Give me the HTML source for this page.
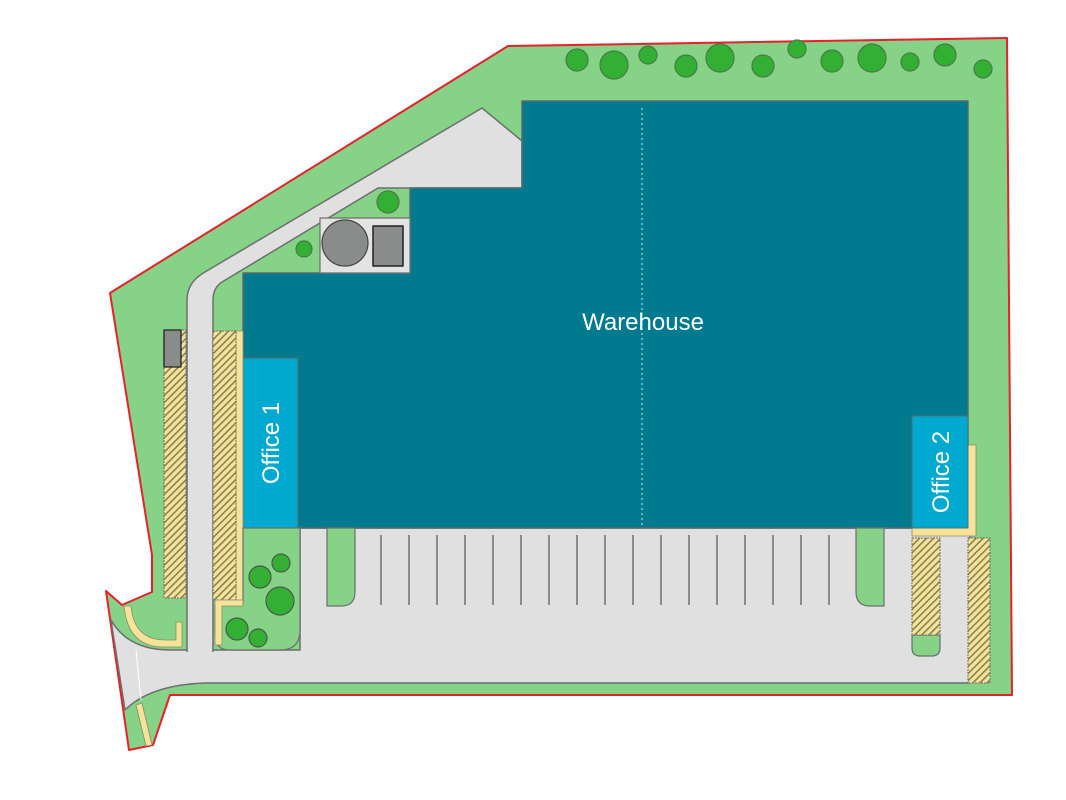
<!DOCTYPE html>
<html><head><meta charset="utf-8"><style>
html,body{margin:0;padding:0;background:#fff;width:1066px;height:800px;overflow:hidden}
svg{display:block}
</style></head><body>
<svg width="1066" height="800" viewBox="0 0 1066 800" xmlns="http://www.w3.org/2000/svg">
<defs>
<pattern id="h" width="5" height="5" patternUnits="userSpaceOnUse" patternTransform="rotate(45)">
<rect width="5" height="5" fill="#f5e39a"/><rect width="1.6" height="5" fill="#8a8252"/>
</pattern>
</defs>
<g stroke-linejoin="round">
<polygon points="110,293 508,46 1007,38 1012,695 170,695 153,745 129,750 106,591 122,605 152,592 152,555" fill="#86d287" stroke="#e8202a" stroke-width="2"/>
<!-- main road + parking -->
<path d="M111,620 Q128,650 170,650 L300,650 L300,528 L970,528 L970,683 L205,683 Q150,685 125,710 Z" fill="#dfe0df" stroke="#6d6f6f" stroke-width="1.5"/>
<!-- left vertical road + diagonal -->
<path d="M187,652 L187,300 Q187,282 205,272 L482,108 L522,141 L522,188 L378,188 L222,282 Q213,288 213,300 L213,652" fill="#dfe0df" stroke="#6d6f6f" stroke-width="1.5"/>
<rect x="188" y="640" width="24" height="15" fill="#dfe0df"/>
<polygon points="522,101 968,101 968,528 243,528 243,273 410,273 410,188 522,188" fill="#007a8e" stroke="#5a6a6e" stroke-width="1.5"/>
<line x1="642" y1="108" x2="642" y2="525" stroke="#cfe6ea" stroke-width="1" stroke-dasharray="2,3"/>
<rect x="320" y="218" width="90" height="55" fill="#e2e3e2" stroke="#6d6f6f" stroke-width="1.2"/>
<circle cx="345" cy="243" r="23" fill="#8a8c8c" stroke="#444" stroke-width="1.2"/>
<rect x="373" y="226" width="30" height="40" fill="#8a8c8c" stroke="#222" stroke-width="1.5"/>
<circle cx="388" cy="202" r="11" fill="#33b033" stroke="#4a7a4a" stroke-width="1.2"/>
<circle cx="304" cy="249" r="8" fill="#33b033" stroke="#4a7a4a" stroke-width="1.2"/>
<rect x="243" y="358" width="55" height="170" fill="#00a9cf" stroke="#5a6a6e" stroke-width="1"/>
<text transform="translate(279,443) rotate(-90)" text-anchor="middle" font-family="Liberation Sans, sans-serif" font-size="24" fill="#fff">Office 1</text>
<polygon points="968,445 976,445 976,536 912,536 912,528 968,528" fill="#f5e39a" stroke="#8a8a6a" stroke-width="0.8"/>
<rect x="912" y="416" width="56" height="112" fill="#00a9cf" stroke="#5a6a6e" stroke-width="1"/>
<text transform="translate(949,472) rotate(-90)" text-anchor="middle" font-family="Liberation Sans, sans-serif" font-size="24" fill="#fff">Office 2</text>
<text x="643" y="330" text-anchor="middle" font-family="Liberation Sans, sans-serif" font-size="24" fill="#fff">Warehouse</text>
<rect x="164" y="330" width="22" height="268" fill="url(#h)" stroke="#6d6f6f" stroke-width="1" stroke-dasharray="2,1"/>
<rect x="164" y="330" width="17" height="37" fill="#8a8c8c" stroke="#222" stroke-width="1.3"/>
<rect x="236" y="331" width="7" height="270" fill="#f5e39a" stroke="#8a8a6a" stroke-width="0.8"/>
<rect x="213" y="331" width="23" height="269" fill="url(#h)" stroke="#6d6f6f" stroke-width="1" stroke-dasharray="2,1"/>
<path d="M124,606 Q128,648 165,647 L182,647 L182,622 L176,622 L176,640 L165,640 Q134,640 131,606 Z" fill="#f5e39a" stroke="#8a8a6a" stroke-width="0.8"/>
<line x1="136" y1="650" x2="141" y2="700" stroke="#fff" stroke-width="1"/>
<polygon points="136,705 142,703 152,745 146,746" fill="#f5e39a" stroke="#8a8a6a" stroke-width="0.8"/>
<path d="M243,528 L300,528 L300,630 Q300,650 280,650 L230,650 Q215,650 215,635 L215,605 L243,605 Z" fill="#86d287" stroke="#6d6f6f" stroke-width="1.2"/>
<polygon points="236,600 243,600 243,606 222,606 222,645 215,645 215,600" fill="#f5e39a" stroke="#8a8a6a" stroke-width="0.8"/>
<circle cx="260" cy="577" r="11" fill="#33b033" stroke="#4a5a4a" stroke-width="1.2"/>
<circle cx="281" cy="563" r="9" fill="#33b033" stroke="#4a5a4a" stroke-width="1.2"/>
<circle cx="280" cy="601" r="14" fill="#33b033" stroke="#4a5a4a" stroke-width="1.2"/>
<circle cx="237" cy="629" r="11" fill="#33b033" stroke="#4a5a4a" stroke-width="1.2"/>
<circle cx="258" cy="638" r="9" fill="#33b033" stroke="#4a5a4a" stroke-width="1.2"/>
<path d="M327,528 L355,528 L355,592 Q355,606 341,606 L327,606 Z" fill="#86d287" stroke="#6d6f6f" stroke-width="1.2"/>
<path d="M856,528 L884,528 L884,606 L870,606 Q856,606 856,592 Z" fill="#86d287" stroke="#6d6f6f" stroke-width="1.2"/>
<g stroke="#6d6f6f" stroke-width="1.5">
<line x1="381" y1="535" x2="381" y2="605"/><line x1="409" y1="535" x2="409" y2="605"/><line x1="437" y1="535" x2="437" y2="605"/><line x1="465" y1="535" x2="465" y2="605"/><line x1="493" y1="535" x2="493" y2="605"/><line x1="521" y1="535" x2="521" y2="605"/><line x1="549" y1="535" x2="549" y2="605"/><line x1="577" y1="535" x2="577" y2="605"/><line x1="605" y1="535" x2="605" y2="605"/><line x1="633" y1="535" x2="633" y2="605"/><line x1="661" y1="535" x2="661" y2="605"/><line x1="689" y1="535" x2="689" y2="605"/><line x1="717" y1="535" x2="717" y2="605"/><line x1="745" y1="535" x2="745" y2="605"/><line x1="773" y1="535" x2="773" y2="605"/><line x1="801" y1="535" x2="801" y2="605"/><line x1="829" y1="535" x2="829" y2="605"/>
</g>
<path d="M912,635 L940,635 L940,648 Q940,656 932,656 L920,656 Q912,656 912,648 Z" fill="#86d287" stroke="#6d6f6f" stroke-width="1.2"/>
<rect x="912" y="538" width="28" height="97" fill="url(#h)" stroke="#6d6f6f" stroke-width="1" stroke-dasharray="2,1"/>
<rect x="968" y="538" width="22" height="145" fill="url(#h)" stroke="#6d6f6f" stroke-width="1" stroke-dasharray="2,1"/>
<g fill="#33b033" stroke="#4a7a4a" stroke-width="1.2">
<circle cx="577" cy="60" r="11"/><circle cx="614" cy="65" r="14"/><circle cx="648" cy="55" r="9"/><circle cx="686" cy="66" r="11"/><circle cx="720" cy="58" r="14"/><circle cx="763" cy="66" r="11"/><circle cx="797" cy="49" r="9"/><circle cx="832" cy="61" r="11"/><circle cx="872" cy="58" r="14"/><circle cx="910" cy="62" r="9"/><circle cx="945" cy="55" r="11"/><circle cx="983" cy="69" r="9"/>
</g>
</g>
</svg>
</body></html>
